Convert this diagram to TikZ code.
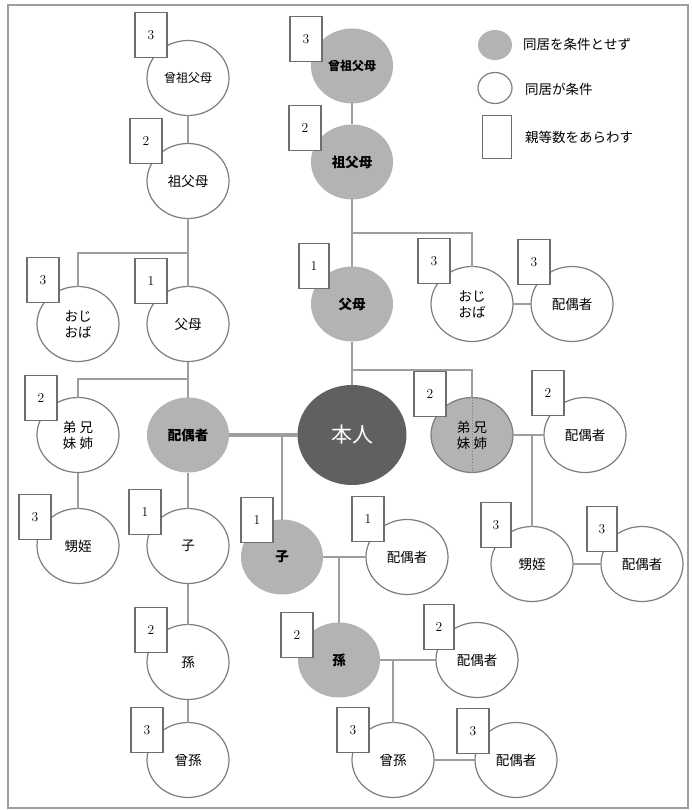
\documentclass[tikz,border=0pt]{standalone}
\usepackage{fontspec}
\usepackage{tikz}
\usetikzlibrary{shapes.geometric}
\newfontfamily\jp{Noto Sans CJK JP}
\definecolor{lineGray}{RGB}{158,158,158}
\definecolor{edgeGray}{RGB}{125,125,125}
\definecolor{fillGray}{RGB}{179,179,179}
\definecolor{selfGray}{RGB}{96,96,96}
\definecolor{boxGray}{RGB}{110,110,110}

\begin{document}
\begin{tikzpicture}[x = 1pt, y = -1pt,
  famw/.style = {ellipse, draw = edgeGray, line width = 1.2, fill = white, minimum width = 82, minimum height = 75, inner sep = 0, outer sep = 0, align = center, font = \jp\fontsize{13.5}{16}\selectfont},
  famg/.style = {famw, draw = none, fill = fillGray, font = \jp\bfseries\fontsize{13.5}{16}\selectfont},
  degbox/.style = {rectangle, draw = boxGray, line width = 1.2, fill = white, minimum width = 32, minimum height = 45, inner sep = 0, font = \fontsize{13.5}{15}\selectfont},
  link/.style = {draw = lineGray, line width = 1.3},
  legtext/.style = {anchor = west, inner sep = 0, font = \jp\fontsize{13.5}{16}\selectfont}]
\useasboundingbox (0, 0) rectangle (692, 810);
\draw[lineGray, line width = 1.5] (8, 5) rectangle (688, 808);

\node (legG) at (495, 45) [ellipse, fill = fillGray, minimum width = 34, minimum height = 30, inner sep = 0] {};
\node (legGt) at (523, 44) [legtext] {同居を条件とせず};
\node (legW) at (495, 88) [ellipse, draw = edgeGray, line width = 1.2, minimum width = 34, minimum height = 31, inner sep = 0] {};
\node (legWt) at (525, 89) [legtext] {同居が条件};
\node (legB) at (497, 137) [rectangle, draw = boxGray, line width = 1.2, minimum width = 29, minimum height = 43, inner sep = 0] {};
\node (legBt) at (525, 137) [legtext] {親等数をあらわす};

\node (sofuboL) at (188, 78) [famw, font = \jp\fontsize{12}{14}\selectfont] {曾祖父母};
\node (soboL) at (188, 181) [famw] {祖父母};
\node (ojiL) at (78, 324) [famw] {おじ\\おば};
\node (fuboL) at (188, 324) [famw] {父母};
\node (kyoL) at (78, 435) [famw] {弟 兄\\妹 姉};
\node (haigu) at (188, 435) [famg] {配偶者};
\node (oiL) at (78, 546) [famw] {甥姪};
\node (koL) at (188, 546) [famw] {子};
\node (magoL) at (188, 662) [famw] {孫};
\node (himagoL) at (188, 760) [famw] {曾孫};

\node (sofuboR) at (352, 66) [famg, font = \jp\bfseries\fontsize{12}{14}\selectfont] {曾祖父母};
\node (soboR) at (352, 162) [famg] {祖父母};
\node (fuboR) at (352, 304) [famg] {父母};
\node (ojiR) at (472, 304) [famw] {おじ\\おば};
\node (ojiRsp) at (572, 304) [famw] {配偶者};
\node (honnin) at (352, 435) [famw, draw = none, fill = selfGray, text = white, minimum width = 109, minimum height = 100, font = \jp\fontsize{21}{24}\selectfont] {本人};
\node (kyoR) at (472, 435) [famw, fill = fillGray] {弟 兄\\妹 姉};
\node (kyoRsp) at (585, 435) [famw] {配偶者};
\node (oiR) at (532, 564) [famw] {甥姪};
\node (oiRsp) at (642, 564) [famw] {配偶者};
\node (koR) at (282, 557) [famg] {子};
\node (koRsp) at (407, 557) [famw] {配偶者};
\node (magoR) at (339, 660) [famg] {孫};
\node (magoRsp) at (477, 660) [famw] {配偶者};
\node (himagoR) at (393, 760) [famw] {曾孫};
\node (himagoRsp) at (516, 760) [famw] {配偶者};

\coordinate (jA) at (188, 253);
\coordinate (jB) at (188, 379);
\coordinate (jC) at (282, 435);
\coordinate (jD) at (352, 233);
\coordinate (jE) at (352, 370);
\coordinate (jF) at (532, 435);
\coordinate (jG) at (339, 557);
\coordinate (jH) at (393, 660);

\draw[link] (sofuboL) -- (soboL);
\draw[link] (soboL) -- (fuboL);
\draw[link] (jA) -| (ojiL.north);
\draw[link] (fuboL) -- (haigu);
\draw[link] (jB) -| (kyoL.north);
\draw[link] (kyoL) -- (oiL);
\draw[link] (haigu) -- (koL);
\draw[link] (koL) -- (magoL);
\draw[link] (magoL) -- (himagoL);
\draw[link, line width = 3.2] (haigu.east) -- (honnin.west);
\draw[link] (jC) -- (koR.north);

\draw[link] (sofuboR) -- (soboR);
\draw[link] (soboR) -- (fuboR);
\draw[link] (jD) -| (ojiR.north);
\draw[link] (ojiR) -- (ojiRsp);
\draw[link] (fuboR) -- (honnin);
\draw[link] (jE) -| (kyoR.north);
\draw[edgeGray, dotted, line width = 0.8] (kyoR.north) -- (kyoR.south);
\draw[link] (kyoR) -- (kyoRsp);
\draw[link] (jF) -- (oiR.north);
\draw[link] (oiR) -- (oiRsp);
\draw[link] (koR) -- (koRsp);
\draw[link] (jG) -- (magoR.north);
\draw[link] (magoR) -- (magoRsp);
\draw[link] (jH) -- (himagoR.north);
\draw[link] (himagoR) -- (himagoRsp);

\node (dSofuboL) at (151, 35) [degbox] {3};
\node (dSoboL) at (146, 141) [degbox] {2};
\node (dOjiL) at (43, 280) [degbox] {3};
\node (dFuboL) at (151, 281) [degbox] {1};
\node (dKyoL) at (41, 398) [degbox] {2};
\node (dOiL) at (35, 517) [degbox] {3};
\node (dKoL) at (145, 512) [degbox] {1};
\node (dMagoL) at (151, 630) [degbox] {2};
\node (dHimagoL) at (147, 730) [degbox] {3};

\node (dSofuboR) at (306, 39) [degbox] {3};
\node (dSoboR) at (305, 128) [degbox] {2};
\node (dFuboR) at (314, 266) [degbox, minimum width = 30] {1};
\node (dOjiR) at (434, 261) [degbox] {3};
\node (dOjiRsp) at (534, 262) [degbox] {3};
\node (dKyoR) at (430, 394) [degbox] {2};
\node (dKyoRsp) at (548, 393) [degbox] {2};
\node (dKoR) at (257, 520) [degbox] {1};
\node (dKoRsp) at (368, 519) [degbox] {1};
\node (dOiR) at (496, 525) [degbox, minimum width = 30] {3};
\node (dOiRsp) at (602, 529) [degbox, minimum width = 30] {3};
\node (dMagoR) at (297, 635) [degbox] {2};
\node (dMagoRsp) at (439, 627) [degbox, minimum width = 30] {2};
\node (dHimagoR) at (353, 730) [degbox] {3};
\node (dHimagoRsp) at (473, 731) [degbox] {3};
\end{tikzpicture}
\end{document}
